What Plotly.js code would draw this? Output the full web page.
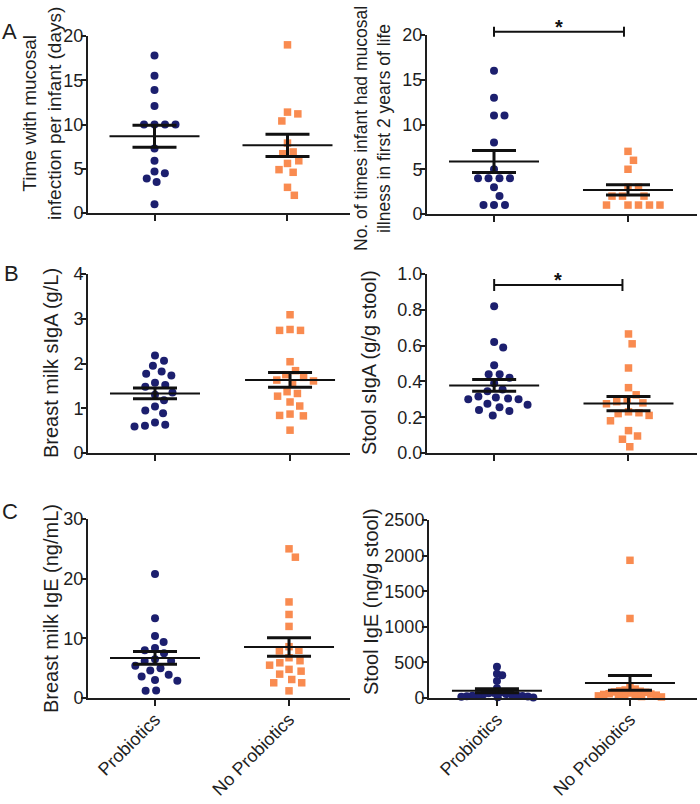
<!DOCTYPE html>
<html>
<head>
<meta charset="utf-8">
<script src="https://cdn.plot.ly/plotly-3.0.1.min.js"></script>
<style>
	html, body { margin: 0; padding: 0; background: #fff; }
	#chart { width: 700px; height: 804px; }
</style>
</head>
<body>
<div id="chart"></div>
<script>

// categories (x = 0, 1)
const groupNames = ["Probiotics", "No Probiotics"]

// A left - time with mucosal infection (days)
const timeInfectionPro = [17.8, 15.5, 13.9, 12.1, 10, 10, 10, 10, 7.3, 5.9, 4.7, 4.5, 3.9, 3.5, 1.0]
const timeInfectionNoPro = [19, 11.4, 11.2, 10.4, 7.9, 6.9, 6.7, 5.9, 5.6, 4.9, 4.6, 2.9, 2.0]

// A right - number of mucosal illnesses
const illnessCountPro = [16, 13, 11, 11, 8, 5, 4, 4, 4, 4, 3, 2, 1, 1, 1]
const illnessCountNoPro = [7, 6, 5, 3, 3, 2, 2, 2, 1, 1, 1, 1, 1]

// B left - breast milk sIgA (g/L)
const milkIgaPro = [2.18, 2.06, 1.95, 1.82, 1.77, 1.73, 1.57, 1.52, 1.48, 1.35, 1.3, 1.18, 1.04, 0.95, 0.89, 0.68, 0.63, 0.61, 0.59]
const milkIgaNoPro = [3.09, 2.76, 2.74, 2.74, 2.04, 1.84, 1.75, 1.69, 1.63, 1.61, 1.57, 1.37, 1.33, 1.27, 1.14, 1.05, 0.87, 0.84, 0.83, 0.51]

// B right - stool sIgA (g/g stool)
const stoolIgaPro = [0.82, 0.62, 0.59, 0.49, 0.44, 0.44, 0.42, 0.39, 0.355, 0.345, 0.315, 0.31, 0.305, 0.30, 0.30, 0.275, 0.27, 0.255, 0.24, 0.235, 0.21]
const stoolIgaNoPro = [0.665, 0.61, 0.475, 0.365, 0.325, 0.295, 0.287, 0.28, 0.275, 0.23, 0.225, 0.22, 0.21, 0.18, 0.125, 0.095, 0.077, 0.035]

// C left - breast milk IgE (ng/mL)
const milkIgePro = [20.8, 13.35, 10.4, 9.4, 8.4, 8.0, 7.5, 6.5, 6.2, 6.2, 5.4, 5.0, 4.6, 3.9, 3.6, 3.0, 2.9, 1.25, 1.2]
const milkIgeNoPro = [25, 23.6, 16.1, 14.0, 12.0, 8.6, 8.0, 7.9, 6.75, 6.25, 5.9, 5.5, 4.8, 4.5, 4.0, 3.1, 2.55, 2.55, 1.2]

// C right - stool IgE (ng/g stool)
const stoolIgePro = [440, 341, 318, 239, 136, 82, 70, 65, 55, 50, 48, 40, 35, 30, 28, 25, 20, 18, 12, 8]
const stoolIgeNoPro = [1934, 1117, 150, 125, 112, 100, 95, 85, 80, 70, 60, 55, 50, 45, 40, 35, 30, 25, 20, 15]


const W = 700
const H = 804
const INK = "#1e1e1e"
const NAVY = "#1c1f6e"
const ORANGE = "#f98b50"
const FONT = "Liberation Sans, Arial, sans-serif"

// panel boxes in px (x = y axis .. end of x axis ; y = top of y axis .. x axis)
const panels = [
	{ pro: timeInfectionPro, noPro: timeInfectionNoPro, x: [88, 350], y: [36, 213], yr: [0, 20], xr: [-0.5, 1.47], dtick: 5, fmt: "",
		title: "Time with mucosal<br>infection per infant (days)", tx: 42, ty: 114, ts: 19 },
	{ pro: illnessCountPro, noPro: illnessCountNoPro, x: [427, 697], y: [35, 214], yr: [0, 20], xr: [-0.5, 1.515], dtick: 5, fmt: "",
		title: "No. of times infant had mucosal<br>illness in first 2 years of life", tx: 373, ty: 128, ts: 17.5 },
	{ pro: milkIgaPro, noPro: milkIgaNoPro, x: [88, 350], y: [274, 453], yr: [0, 4], xr: [-0.496, 1.444], dtick: 1, fmt: "",
		title: "Breast milk sIgA (g/L)", tx: 51, ty: 363, ts: 20 },
	{ pro: stoolIgaPro, noPro: stoolIgaNoPro, x: [427, 697], y: [274, 453], yr: [0, 1], xr: [-0.5, 1.51], dtick: 0.2, fmt: ".1f",
		title: "Stool sIgA (g/g stool)", tx: 369, ty: 363, ts: 20 },
	{ pro: milkIgePro, noPro: milkIgeNoPro, x: [88, 350], y: [519, 698], yr: [0, 30], xr: [-0.5, 1.455], dtick: 10, fmt: "",
		title: "Breast milk IgE (ng/mL)", tx: 51, ty: 609, ts: 20, labels: true },
	{ pro: stoolIgePro, noPro: stoolIgeNoPro, x: [429, 697], y: [520, 698], yr: [0, 2500], xr: [-0.511, 1.504], dtick: 500, fmt: "",
		title: "Stool IgE (ng/g stool)", tx: 371, ty: 602, ts: 20, labels: true, swarm: 5.5 }
]


// H| function beeswarm - spread dots sideways so they do not overlap (in px)
function beeswarm(values, pxY, pxX, center, D) {
	const order = values.map((v, i) => i).sort((a, b) => values[b] - values[a])
	const placed = []
	const xs = new Array(values.length)
	order.forEach(i => {
		const y = values[i] * pxY
		const near = placed.filter(p => Math.abs(p.y - y) < D)
		const cands = [0]
		near.forEach(p => {
			const dx = Math.sqrt(D * D - (p.y - y) ** 2)
			cands.push(p.x + dx, p.x - dx)
		})
		cands.sort((a, b) => Math.abs(a) - Math.abs(b) || b - a)
		const x = cands.find(c => near.every(p => (p.x - c) ** 2 + (p.y - y) ** 2 >= D * D - 0.01))
		placed.push({ x: x, y: y })
		xs[i] = center + x / pxX
	})
	return xs
}

function meanSem(v) {
	const n = v.length
	const m = v.reduce((a, b) => a + b, 0) / n
	const sd = Math.sqrt(v.reduce((a, b) => a + (b - m) ** 2, 0) / (n - 1))
	return [m, sd / Math.sqrt(n)]
}


const data = []
const layout = {
	width: W,
	height: H,
	margin: { l: 0, r: 0, t: 0, b: 0 },
	paper_bgcolor: "#fff",
	plot_bgcolor: "rgba(0,0,0,0)",
	showlegend: false,
	font: { family: FONT, color: INK, size: 18 },
	shapes: [],
	annotations: []
}

panels.forEach((P, k) => {
	const n = k + 1
	const xa = "x" + (n == 1 ? "" : n)
	const ya = "y" + (n == 1 ? "" : n)
	const pxX = (P.x[1] - P.x[0]) / (P.xr[1] - P.xr[0])
	const pxY = (P.y[1] - P.y[0]) / (P.yr[1] - P.yr[0])

	const groups = [P.pro, P.noPro]
	groups.forEach((vals, g) => {
		data.push({
			type: "scatter", mode: "markers", xaxis: xa, yaxis: ya,
			x: beeswarm(vals, pxY, pxX, g, P.swarm || 10.5), y: vals,
			cliponaxis: false, hoverinfo: "y",
			marker: g == 0
				? { symbol: "circle", size: 8, color: NAVY, line: { width: 0 } }
				: { symbol: "square", size: 7.5, color: ORANGE, line: { width: 0 } }
		})
	})

	// mean line and sem bars on top of the dots
	const meanX = [], meanY = [], semX = [], semY = []
	groups.forEach((vals, g) => {
		const [m, s] = meanSem(vals)
		const hm = 45 / pxX
		const hc = 22 / pxX
		meanX.push(g - hm, g + hm, null)
		meanY.push(m, m, null)
		semX.push(g - hc, g + hc, null, g - hc, g + hc, null, g, g, null)
		semY.push(m + s, m + s, null, m - s, m - s, null, m - s, m + s, null)
	})
	data.push({ type: "scatter", mode: "lines", xaxis: xa, yaxis: ya, x: meanX, y: meanY, hoverinfo: "skip", line: { color: "#111", width: 2 } })
	data.push({ type: "scatter", mode: "lines", xaxis: xa, yaxis: ya, x: semX, y: semY, hoverinfo: "skip", line: { color: "#111", width: 3 } })

	layout["xaxis" + (n == 1 ? "" : n)] = {
		domain: [P.x[0] / W, P.x[1] / W],
		range: P.xr,
		anchor: ya,
		showline: true, linecolor: INK, linewidth: 2,
		ticks: "outside", ticklen: 6, tickwidth: 2, tickcolor: INK,
		tickvals: [0, 1], ticktext: groupNames,
		showticklabels: !!P.labels, tickangle: -45,
		ticklabelstandoff: -4,
		tickfont: { size: 18, family: FONT, color: INK },
		showgrid: false, zeroline: false, fixedrange: true
	}
	layout["yaxis" + (n == 1 ? "" : n)] = {
		domain: [1 - P.y[1] / H, 1 - P.y[0] / H],
		range: P.yr,
		anchor: xa,
		showline: true, linecolor: INK, linewidth: 2,
		ticks: "outside", ticklen: 5, tickwidth: 2, tickcolor: INK,
		dtick: P.dtick, tick0: 0, tickformat: P.fmt,
		ticklabelstandoff: -6,
		tickfont: { size: 18, family: FONT, color: INK },
		showgrid: false, zeroline: false, fixedrange: true
	}

	layout.annotations.push({
		xref: "paper", yref: "paper", x: P.tx / W, y: 1 - P.ty / H,
		xanchor: "center", yanchor: "middle", textangle: -90, showarrow: false,
		text: P.title, font: { size: P.ts, family: FONT, color: INK }
	})
})


// H| panel letters
const letters = [["A", 9, 31], ["B", 11, 273], ["C", 10, 511]]
letters.forEach(L => {
	layout.annotations.push({
		xref: "paper", yref: "paper", x: L[1] / W, y: 1 - L[2] / H,
		xanchor: "center", yanchor: "middle", showarrow: false,
		text: L[0], font: { size: 22, family: FONT, color: INK }
	})
})


// H| significance brackets (x in data, y in px)
const brackets = [
	{ xa: "x2", ya: "y2", x1: 0.97, y: 31.7, cap: 5, star: 27, box: panels[1].y },
	{ xa: "x4", ya: "y4", x1: 0.955, y: 285, cap: 6, star: 280, box: panels[3].y }
]
brackets.forEach(B => {
	const toDom = py => (B.box[1] - py) / (B.box[1] - B.box[0])
	const yref = B.ya + " domain"
	const line = { color: "#111", width: 2 }
	layout.shapes.push({ type: "line", xref: B.xa, yref: yref, x0: 0, x1: B.x1, y0: toDom(B.y), y1: toDom(B.y), line: line })
	layout.shapes.push({ type: "line", xref: B.xa, yref: yref, x0: 0, x1: 0, y0: toDom(B.y - B.cap), y1: toDom(B.y + B.cap), line: line })
	layout.shapes.push({ type: "line", xref: B.xa, yref: yref, x0: B.x1, x1: B.x1, y0: toDom(B.y - B.cap), y1: toDom(B.y + B.cap), line: line })
	layout.annotations.push({
		xref: B.xa, yref: "paper", x: B.x1 / 2, y: 1 - B.star / H,
		xanchor: "center", yanchor: "middle", showarrow: false,
		text: "<b>*</b>", font: { size: 20, family: FONT, color: "#111" }
	})
})


Plotly.newPlot("chart", data, layout, { displayModeBar: false, staticPlot: true })

</script>
</body>
</html>
